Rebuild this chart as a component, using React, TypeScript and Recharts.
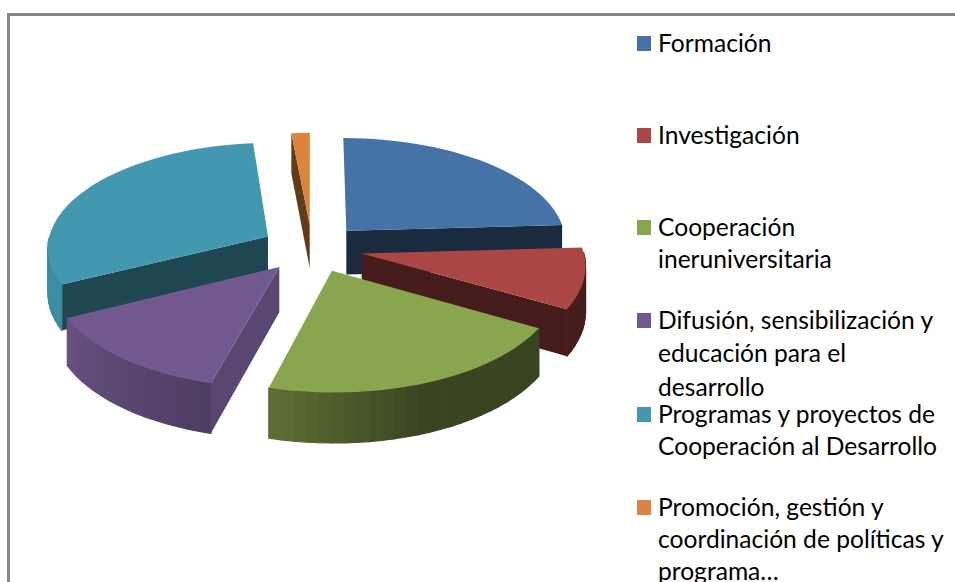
import { PieChart, Pie, Legend } from 'recharts'

const CATEGORIES = [
  'Formación',
  'Investigación',
  'Cooperación ineruniversitaria',
  'Difusión, sensibilización y educación para el desarrollo',
  'Programas y proyectos de Cooperación al Desarrollo',
  'Promoción, gestión y coordinación de políticas y programa…',
]
const VALUES = [24.1, 9.2, 20.9, 13.4, 30.9, 1.5]
const COLORS = ['#4572a7', '#aa4643', '#89a54e', '#71588f', '#4198af', '#db843d']

// how the legend text breaks in the reference
const LEGEND_LINES = [
  ['Formación'],
  ['Investigación'],
  ['Cooperación', 'ineruniversitaria'],
  ['Difusión, sensibilización y', 'educación para el', 'desarrollo'],
  ['Programas y proyectos de', 'Cooperación al Desarrollo'],
  ['Promoción, gestión y', 'coordinación de políticas y', 'programa…'],
]
const LEGEND_Y = [43, 135, 227, 320, 414, 507]
const LEGEND_STEP = [32, 32, 32, 33.5, 32, 32]

// back slices first, the front ones paint over them
const PAINT_ORDER = [5, 0, 4, 1, 3, 2]

const data = CATEGORIES.map((name, i) => ({ name, value: VALUES[i], fill: COLORS[i] }))

const TILT = 0.475
const PERSPECTIVE = 0.098
const EXPLODE = 0.23
const DEPTH = 44.5

const rad = (deg: number) => (deg * Math.PI) / 180

function lerpTable(table: number[][], x: number) {
  if (x <= table[0][0]) return table[0][1]
  for (let i = 1; i < table.length; i++) {
    if (x <= table[i][0]) {
      const [x0, y0] = table[i - 1]
      const [x1, y1] = table[i]
      return y0 + ((y1 - y0) * (x - x0)) / (x1 - x0)
    }
  }
  return table[table.length - 1][1]
}

const OUTER_SHADE = [[-200, 0.9], [-157, 0.93], [-108, 0.7], [-70, 0.42], [0, 0.4]]
const CUT_SHADE = [[-174, 0.45], [-114, 0.4], [-87, 0.38], [-67, 0.43], [-30, 0.8]]

function shadeColor(hex: string, k: number) {
  const n = parseInt(hex.slice(1), 16)
  const r = Math.round(((n >> 16) & 255) * k)
  const g = Math.round(((n >> 8) & 255) * k)
  const b = Math.round((n & 255) * k)
  return `rgb(${r},${g},${b})`
}

function Wedge(props: any) {
  const { cx, cy, outerRadius, startAngle, endAngle, fill } = props
  const mid = rad((startAngle + endAngle) / 2)

  // disc point (unit radius) -> screen, with the slice pulled out along its bisector
  const project = (angle: number, r: number, down: number) => {
    const X = r * Math.cos(rad(angle)) + EXPLODE * Math.cos(mid)
    const Y = r * Math.sin(rad(angle)) + EXPLODE * Math.sin(mid)
    const s = 1 / (1 + PERSPECTIVE * Y)
    return [cx + X * outerRadius * s, cy - Y * outerRadius * TILT * s + down * s]
  }
  const poly = (pts: number[][]) => pts.map((p) => `${p[0].toFixed(1)},${p[1].toFixed(1)}`).join(' ')

  const steps = Math.max(2, Math.ceil(Math.abs(endAngle - startAngle) / 3))
  const angles = Array.from({ length: steps + 1 }, (_, i) => startAngle + ((endAngle - startAngle) * i) / steps)

  const norm = (a: number) => {
    let v = a
    while (v > 0) v -= 360
    while (v <= -360) v += 360
    return v < -200 ? v + 360 : v
  }
  const faces = (a: number) => Math.sin(rad(a)) < -0.02

  const cutWall = (angle: number, normal: number) => {
    if (!faces(normal)) return null
    const c = shadeColor(fill, lerpTable(CUT_SHADE, norm(normal)))
    return (
      <polygon
        points={poly([project(angle, 0, 0), project(angle, 1, 0), project(angle, 1, DEPTH), project(angle, 0, DEPTH)])}
        fill={c}
      />
    )
  }

  return (
    <g>
      {cutWall(startAngle, startAngle + 90)}
      {cutWall(endAngle, endAngle - 90)}
      {angles.slice(0, -1).map((a, i) => {
        const b = angles[i + 1]
        if (!faces(a) && !faces(b)) return null
        const c = shadeColor(fill, lerpTable(OUTER_SHADE, norm((a + b) / 2)))
        return (
          <polygon
            key={i}
            points={poly([project(a, 1, 0), project(b, 1, 0), project(b, 1, DEPTH), project(a, 1, DEPTH)])}
            fill={c}
            stroke={c}
            strokeWidth={1.2}
            strokeLinejoin="round"
          />
        )
      })}
      <polygon points={poly([project(0, 0, 0), ...angles.map((a) => project(a, 1, 0))])} fill={fill} />
    </g>
  )
}

function renderLegend() {
  return (
    <div style={{ position: 'relative', width: 955, height: 582 }}>
      {CATEGORIES.map((name, i) => (
        <div key={name}>
          <div
            style={{
              position: 'absolute',
              left: 637,
              top: LEGEND_Y[i] - 7.5,
              width: 14,
              height: 15,
              background: COLORS[i],
            }}
          />
          {LEGEND_LINES[i].map((line, j) => (
            <div
              key={j}
              style={{
                position: 'absolute',
                left: 658,
                top: LEGEND_Y[i] + j * LEGEND_STEP[i] - 16.5,
                height: 32,
                lineHeight: '32px',
                fontFamily: 'Lato, sans-serif',
                fontSize: 24.6,
                color: '#000',
                whiteSpace: 'nowrap',
              }}
            >
              {line}
            </div>
          ))}
        </div>
      ))}
    </div>
  )
}

export default function App() {
  return (
    <div style={{ position: 'fixed', left: 0, top: 0, width: 955, height: 582, overflow: 'hidden', background: '#fff' }}>
      <div
        style={{
          position: 'absolute',
          left: 7,
          top: 13,
          width: 960,
          height: 600,
          borderLeft: '3px solid #868686',
          borderTop: '3px solid #868686',
        }}
      />
      <div style={{ position: 'absolute', left: 0, top: 0 }}>
        <PieChart width={955} height={582} margin={{ top: 0, right: 0, bottom: 0, left: 0 }}>
          {PAINT_ORDER.map((slice) => (
            <Pie
              key={slice}
              data={data}
              dataKey="value"
              nameKey="name"
              cx={312}
              cy={248}
              outerRadius={221}
              startAngle={90}
              endAngle={-270}
              isAnimationActive={false}
              shape={(p: any) => (p.name === CATEGORIES[slice] ? <Wedge {...p} /> : <g />)}
            />
          ))}
          <Legend
            content={renderLegend}
            wrapperStyle={{ position: 'absolute', left: 0, top: 0, width: 955, height: 582 }}
          />
        </PieChart>
      </div>
    </div>
  )
}
